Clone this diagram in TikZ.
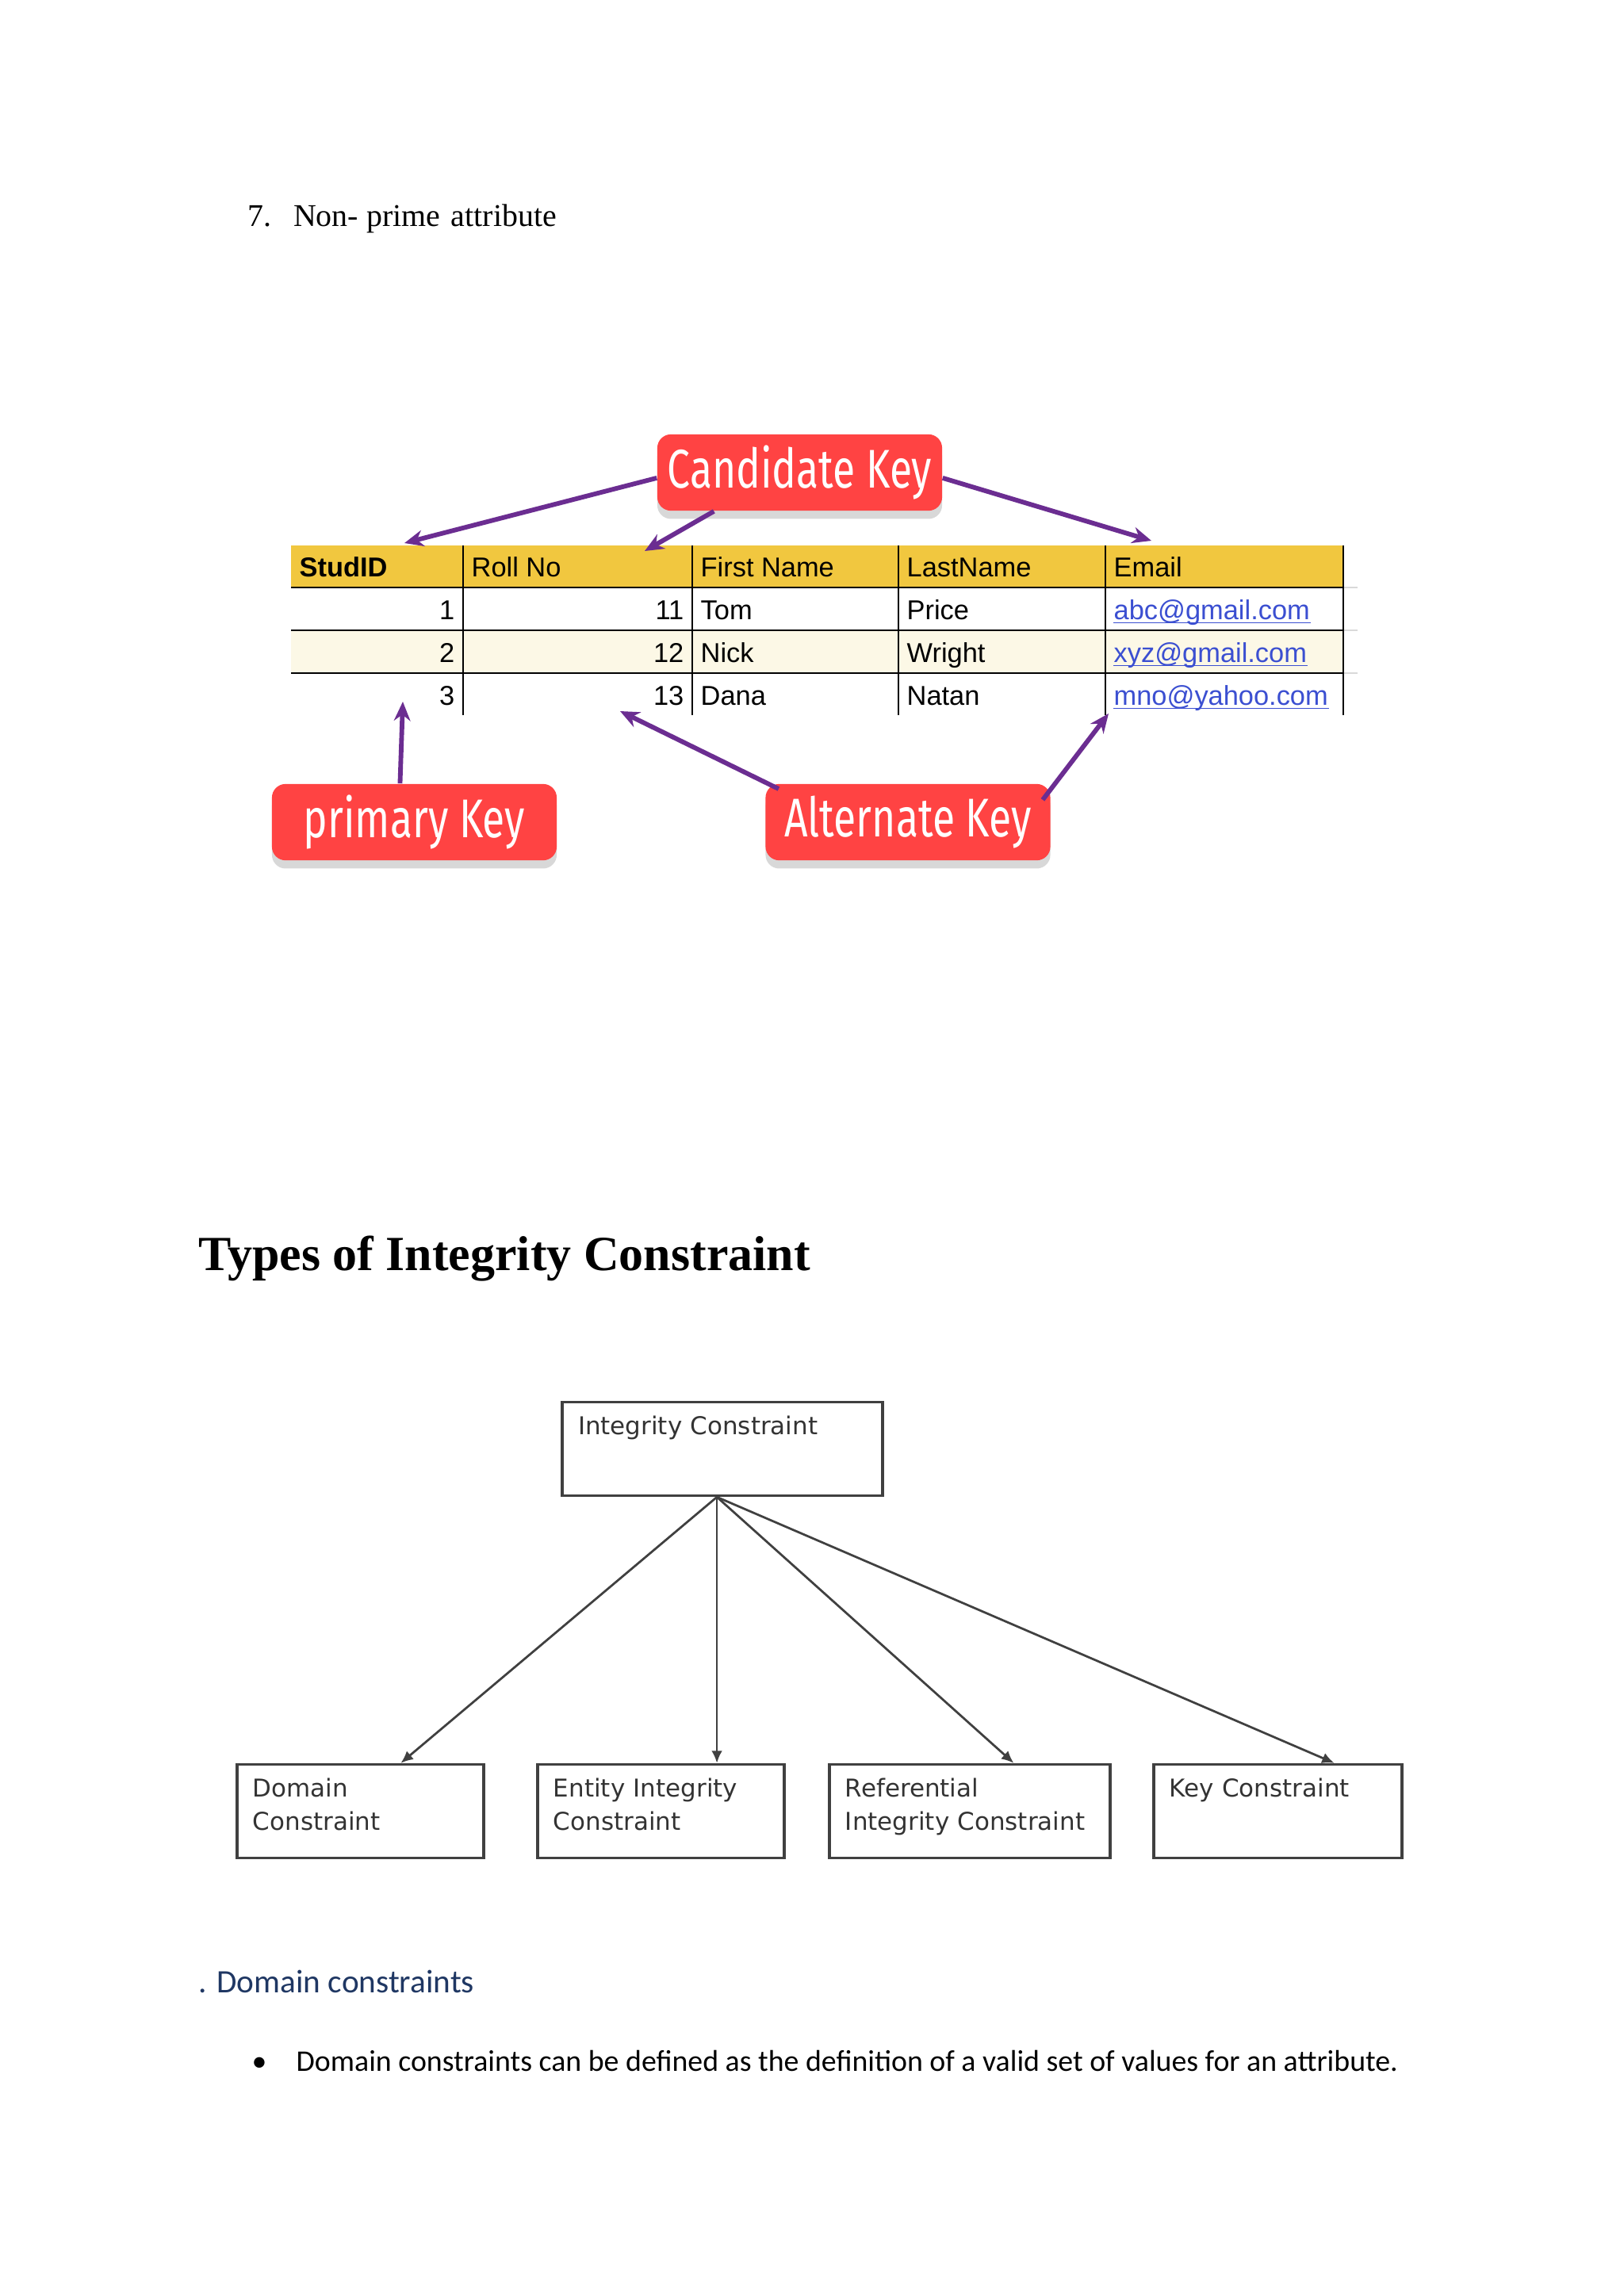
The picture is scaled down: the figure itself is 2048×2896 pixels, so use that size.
\documentclass[tikz,border=0pt]{standalone}
\usepackage{fontspec}
\setmainfont{Liberation Serif}
\newfontfamily\tablefont{Liberation Sans}
\newfontfamily\treefont{DejaVu Sans}
\newfontfamily\wordfont{Carlito}
\newfontfamily\handfont{Fira Sans}[FakeStretch=0.75]
\usetikzlibrary{arrows.meta,calc,shadows}
\definecolor{keyred}{RGB}{255,67,67}
\definecolor{keypurple}{RGB}{107,45,145}
\definecolor{headyellow}{RGB}{241,199,63}
\definecolor{rowcream}{RGB}{252,248,230}
\definecolor{linkblue}{RGB}{59,79,209}
\definecolor{boxgray}{RGB}{64,64,64}
\definecolor{textgray}{RGB}{51,51,51}
\definecolor{headnavy}{RGB}{31,55,99}
\begin{document}
\begin{tikzpicture}
	[x=0.2907pt,y=-0.2907pt,
	cell/.style={font=\tablefont\fontsize{10}{12}\selectfont,inner sep=0pt,anchor=base west},
	num/.style={cell,anchor=base east},
	link/.style={cell,text=linkblue},
	keybox/.style={fill=keyred,rounded corners=5pt,minimum width=104.4pt,minimum height=28pt,
		text=white,font=\handfont\fontsize{20}{24}\selectfont,
		drop shadow={shadow xshift=0pt,shadow yshift=-3pt,opacity=0.3}},
	keyarrow/.style={draw=keypurple,line width=1.7pt,-{Stealth[length=7pt,width=6pt]}},
	conbox/.style={draw=boxgray,line width=1pt,font=\treefont\fontsize{9}{12}\selectfont,
		text=textgray,align=left,inner xsep=5.8pt,inner ysep=0pt,
		text height=12pt,text depth=22.3pt,text width=#1},
	conarrow/.style={draw=boxgray,line width=0.8pt,-{Latex[length=4.5pt,width=4pt]}}]
	\path[use as bounding box,fill=white] (0,0) rectangle (2048,2896);
	\node[anchor=base west,inner sep=0pt,font=\fontsize{11.6}{14}\selectfont] (item) at (312,285)
		{7.\hspace{8pt}Non- prime\hspace{4pt}attribute};
	\fill[headyellow] (367,688) rectangle (1694,741);
	\fill[rowcream] (367,795) rectangle (1694,849);
	\foreach \y in {741,795,849} {
		\draw[gray!30,line width=0.8pt] (1694,\y) -- (1712,\y);
		\draw[line width=0.8pt] (367,\y) -- (1694,\y);
	}
	\foreach \x in {584,873,1133,1394,1694}
		\draw[line width=0.6pt] (\x,688) -- (\x,902);
	\node[cell,font=\tablefont\bfseries\fontsize{10}{12}\selectfont] (hid) at (377,727) {StudID};
	\node[cell] (hroll) at (594,727) {Roll No};
	\node[cell] (hfirst) at (883,727) {First Name};
	\node[cell] (hlast) at (1143,727) {LastName};
	\node[cell] (hmail) at (1404,727) {Email};
	\foreach \id/\roll/\first/\last/\mail [count=\r] in
		{1/11/Tom/Price/abc@gmail.com,
		2/12/Nick/Wright/xyz@gmail.com,
		3/13/Dana/Natan/mno@yahoo.com} {
		\node[num] (id\r) at (574,727+54*\r) {\id};
		\node[num] (roll\r) at (863,727+54*\r) {\roll};
		\node[cell] (first\r) at (883,727+54*\r) {\first};
		\node[cell] (last\r) at (1143,727+54*\r) {\last};
		\node[link] (mail\r) at (1404,727+54*\r) {\mail};
		\draw[linkblue,line width=0.5pt] ([yshift=-1.3pt]mail\r.base west) -- ([yshift=-1.3pt]mail\r.base east);
	}
	\node[keybox] (cand) at (1008.5,596) {Candidate Key};
	\node[keybox] (prim) at (522.5,1037) {primary Key};
	\node[keybox] (alt) at (1145,1037) {Alternate Key};
	\coordinate (tstud) at (510,685);
	\coordinate (troll) at (813,695);
	\coordinate (tmail) at (1452,682);
	\coordinate (tid) at (508,885);
	\coordinate (troll3) at (782,897);
	\coordinate (tmail3) at (1398,900);
	\draw[keyarrow] ([yshift=-2pt]cand.west) -- (tstud);
	\draw[keyarrow] ($(cand.south west)!0.2!(cand.south east)$) -- (troll);
	\draw[keyarrow] ([yshift=-2pt]cand.east) -- (tmail);
	\draw[keyarrow] ($(prim.north west)!0.45!(prim.north east)$) -- (tid);
	\draw[keyarrow] ([xshift=5pt,yshift=-2pt]alt.north west) -- (troll3);
	\draw[keyarrow] ([xshift=-3pt,yshift=-6pt]alt.north east) -- (tmail3);
	\node[anchor=base west,inner sep=0pt,font=\bfseries\fontsize{18}{22}\selectfont] (head) at (250,1602)
		{Types of Integrity Constraint};
	\node[conbox=105.8pt] (root) at (911,1827.5) {Integrity Constraint};
	\node[conbox=78.8pt] (dom) at (454.5,2284.5) {Domain\\Constraint};
	\node[conbox=78.8pt] (ent) at (833.5,2284.5) {Entity Integrity\\Constraint};
	\node[conbox=91.3pt] (ref) at (1223,2284.5) {Referential\\Integrity Constraint};
	\node[conbox=79.4pt] (keyc) at (1611.5,2284.5) {Key Constraint};
	\coordinate (apex) at ($(root.south west)!0.483!(root.south east)$);
	\draw[conarrow] (apex) -- ($(dom.north west)!0.662!(dom.north east)$);
	\draw[conarrow] (apex) -- (apex |- ent.north);
	\draw[conarrow] (apex) -- ($(ref.north west)!0.655!(ref.north east)$);
	\draw[conarrow] (apex) -- ($(keyc.north west)!0.725!(keyc.north east)$);
	\node[anchor=base west,inner sep=0pt,text=headnavy,font=\wordfont\fontsize{12}{14}\selectfont] (dsec) at (250,2513)
		{. Domain constraints};
	\node[anchor=base west,inner sep=0pt,font=\wordfont\fontsize{11}{13}\selectfont] (bul) at (317,2612) {•};
	\node[anchor=base west,inner sep=0pt,font=\wordfont\fontsize{11}{13}\selectfont] (dtext) at (373,2612)
		{Domain constraints can be defined as the definition of a valid set of values for an attribute.};
\end{tikzpicture}
\end{document}
